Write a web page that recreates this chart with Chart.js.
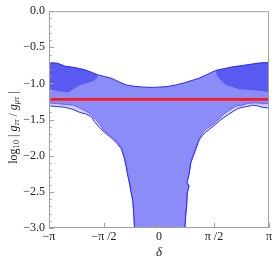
<!DOCTYPE html>
<html><head><meta charset="utf-8">
<script src="https://cdn.jsdelivr.net/npm/chart.js@4.4.1/dist/chart.umd.min.js"></script>
<style>html,body{margin:0;padding:0;background:#fff;}#wrap{width:274px;height:262px;}</style>
</head><body><div id="wrap"><canvas id="c" width="274" height="262"></canvas></div>
<script>
const PI = Math.PI;

// axis ticks
const xTickValues = [-PI, -PI / 2, 0, PI / 2, PI];
const xTickLabels = ['\u2212\u03c0', '\u2212\u03c0 /2', '0', '\u03c0 /2', '\u03c0'];
const yTickValues = [0, -0.5, -1, -1.5, -2, -2.5, -3];
const yTickLabels = ['0.0', '\u22120.5', '\u22121.0', '\u22121.5', '\u22122.0', '\u22122.5', '\u22123.0'];

// upper edge of the allowed region (delta, log10 ratio)
const upperDelta = [-PI, -2.9, -2.69, -2.4, -2.12, -1.9, -1.75, -1.55, -1.37, -1.15, -0.94, -0.7, -0.45, -0.18, 0, 0.2, 0.49, 0.8, 1.15, 1.4, 1.62, 1.91, 2.1, 2.4, 2.67, 2.9, PI];
const upperLog   = [-0.71, -0.72, -0.76, -0.78, -0.81, -0.85, -0.88, -0.905, -0.926, -0.975, -1.02, -1.04, -1.05, -1.055, -1.05, -1.045, -1.02, -0.98, -0.926, -0.87, -0.82, -0.79, -0.77, -0.75, -0.73, -0.715, -0.71];

// lower edge of the outer (lightest) region, right branch from delta=pi down to the bottom
const outerRightDelta = [PI, 2.95, 2.81, 2.67, 2.52, 2.38, 2.24, 2.14, 1.98, 1.86, 1.72, 1.58, 1.45, 1.34, 1.24, 1.15, 1.08, 1.01, 0.96, 0.91, 0.86, 0.80, 0.86, 0.81, 0.79, 0.76, 0.74];
const outerRightLog   = [-1.34, -1.33, -1.31, -1.30, -1.32, -1.33, -1.35, -1.38, -1.43, -1.47, -1.52, -1.58, -1.63, -1.67, -1.72, -1.78, -1.87, -1.97, -2.03, -2.10, -2.26, -2.37, -2.42, -2.51, -2.69, -2.85, -3.0];
// lower edge of the outer region, left branch from delta=-pi down to the bottom
const outerLeftDelta = [-PI, -2.9, -2.69, -2.45, -2.27, -2.1, -1.93, -1.84, -1.70, -1.55, -1.42, -1.32, -1.2, -1.08, -1.0, -0.94, -0.89, -0.84, -0.80, -0.75, -0.72, -0.70];
const outerLeftLog   = [-1.31, -1.32, -1.33, -1.36, -1.40, -1.42, -1.46, -1.53, -1.61, -1.68, -1.73, -1.77, -1.83, -1.90, -2.02, -2.15, -2.28, -2.39, -2.50, -2.62, -2.80, -3.0];

// lower edge of the middle region
const midRightDelta = [PI, 2.95, 2.81, 2.67, 2.52, 2.38, 2.24, 2.14, 1.98, 1.86, 1.72, 1.58, 1.45, 1.34, 1.24, 1.15, 1.08, 1.01, 0.96, 0.91, 0.86, 0.80, 0.86, 0.81, 0.79, 0.76, 0.74];
const midRightLog   = [-1.28, -1.28, -1.27, -1.27, -1.28, -1.30, -1.31, -1.33, -1.38, -1.42, -1.49, -1.55, -1.60, -1.63, -1.69, -1.76, -1.85, -1.94, -2.01, -2.08, -2.24, -2.37, -2.42, -2.51, -2.69, -2.85, -3.0];
const midLeftDelta = [-PI, -2.9, -2.69, -2.45, -2.27, -2.1, -1.93, -1.84, -1.70, -1.55, -1.42, -1.32, -1.2, -1.08, -1.0, -0.94, -0.89, -0.84, -0.80, -0.75, -0.72, -0.70];
const midLeftLog   = [-1.27, -1.28, -1.29, -1.30, -1.34, -1.38, -1.43, -1.48, -1.56, -1.66, -1.71, -1.75, -1.81, -1.88, -1.98, -2.10, -2.26, -2.37, -2.49, -2.61, -2.80, -3.0];

// darkest regions: they start on the upper edge, these are their lower edges
const darkLeftEnd = -1.75;
const darkLeftDelta = [-1.77, -1.82, -1.95, -2.1, -2.3, -2.45, -2.6, -2.85, -PI];
const darkLeftLog   = [-0.92, -0.95, -0.98, -1.0, -1.03, -1.08, -1.12, -1.11, -1.08];
const darkRightStart = 1.62;
const darkRightDelta = [PI, 2.9, 2.6, 2.29, 2.1, 1.91, 1.75, 1.65];
const darkRightLog   = [-1.12, -1.10, -1.09, -1.08, -1.05, -1.02, -0.95, -0.88];

// reference line
const refDelta = [-PI, PI];
const refLog = [-1.22, -1.22];

const pts = (d, v) => d.map((x, i) => ({x: x, y: v[i]}));
const upperPts = pts(upperDelta, upperLog);
const rev = a => a.slice().reverse();

const outerPoly = upperPts
  .concat(pts(outerRightDelta, outerRightLog))
  .concat(rev(pts(outerLeftDelta, outerLeftLog)));
const midPoly = upperPts
  .concat(pts(midRightDelta, midRightLog))
  .concat(rev(pts(midLeftDelta, midLeftLog)));
const darkLeftPoly = upperPts.filter(p => p.x <= darkLeftEnd).concat(pts(darkLeftDelta, darkLeftLog));
const darkRightPoly = upperPts.filter(p => p.x >= darkRightStart).concat(pts(darkRightDelta, darkRightLog));

const EDGE = '#2b2bff';
const serif = "'Times New Roman', 'Liberation Serif', Tinos, serif";

const datasets = [
  {data: pts(refDelta, refLog), showLine: true, borderColor: '#ff1a1a', borderWidth: 2.6, fill: false, order: 0},
  {data: upperPts, showLine: true, borderColor: EDGE, borderWidth: 1, fill: false, order: 1},
  {data: pts(outerRightDelta, outerRightLog), showLine: true, borderColor: EDGE, borderWidth: 1, fill: false, order: 1},
  {data: pts(outerLeftDelta, outerLeftLog), showLine: true, borderColor: EDGE, borderWidth: 1, fill: false, order: 1},
  {data: darkLeftPoly, showLine: true, borderWidth: 0, borderColor: 'rgba(0,0,0,0)', backgroundColor: '#5a5af2', fill: 'shape', order: 2},
  {data: darkRightPoly, showLine: true, borderWidth: 0, borderColor: 'rgba(0,0,0,0)', backgroundColor: '#5a5af2', fill: 'shape', order: 2},
  {data: pts(midRightDelta, midRightLog), showLine: true, borderColor: 'rgba(60,60,255,0.75)', borderWidth: 0.8, fill: false, order: 3},
  {data: pts(midLeftDelta, midLeftLog), showLine: true, borderColor: 'rgba(60,60,255,0.75)', borderWidth: 0.8, fill: false, order: 3},
  {data: midPoly, showLine: true, borderWidth: 0, borderColor: 'rgba(0,0,0,0)', backgroundColor: '#8c8cf8', fill: 'shape', order: 4},
  {data: outerPoly, showLine: true, borderWidth: 0, borderColor: 'rgba(0,0,0,0)', backgroundColor: '#d3d3fb', fill: 'shape', order: 5}
];

const framePlugin = {
  id: 'frame',
  afterDatasetsDraw(chart) {
    const {ctx, chartArea: a, scales: {x, y}} = chart;
    ctx.save();
    ctx.strokeStyle = '#a0a0a0';
    ctx.lineWidth = 1;
    ctx.strokeRect(a.left + 0.5, a.top + 0.5, a.right - a.left - 1, a.bottom - a.top - 1);
    ctx.beginPath();
    for (let k = 0; k <= 30; k++) {
      const py = Math.round(y.getPixelForValue(-k / 10)) + 0.5;
      const len = (k % 5 === 0) ? 5 : 2.5;
      ctx.moveTo(a.left, py); ctx.lineTo(a.left + len, py);
    }
    xTickValues.forEach(v => {
      const px = Math.round(x.getPixelForValue(v)) + 0.5;
      ctx.moveTo(px, a.bottom); ctx.lineTo(px, a.bottom - 5);
    });
    ctx.stroke();
    ctx.restore();
  },
  afterDraw(chart) {
    const {ctx, chartArea: a} = chart;
    const big = '12px ' + serif, bigI = 'italic 12px ' + serif;
    const sm = '8.5px ' + serif, smI = 'italic 8.5px ' + serif;
    const segs = [
      {t: 'log', f: big, dy: 0}, {t: '10', f: sm, dy: 3},
      {t: ' | ', f: big, dy: 0}, {t: 'g', f: bigI, dy: 0}, {t: '\u03c4\u03c4', f: smI, dy: 3},
      {t: ' / ', f: big, dy: 0}, {t: 'g', f: bigI, dy: 0}, {t: '\u03bc\u03c4', f: smI, dy: 3},
      {t: ' |', f: big, dy: 0}
    ];
    ctx.save();
    let total = 0;
    segs.forEach(s => { ctx.font = s.f; s.w = ctx.measureText(s.t).width; total += s.w; });
    ctx.translate(14, (a.top + a.bottom) / 2 + 8);
    ctx.rotate(-PI / 2);
    ctx.fillStyle = '#222';
    ctx.textBaseline = 'middle';
    let cx = -total / 2;
    segs.forEach(s => { ctx.font = s.f; ctx.fillText(s.t, cx, s.dy); cx += s.w; });
    ctx.restore();
  }
};

const tickFont = {family: serif, size: 12};
new Chart(document.getElementById('c'), {
  type: 'scatter',
  data: {datasets},
  options: {
    responsive: false, animation: false, devicePixelRatio: 1,
    layout: {padding: {top: 7, right: 4, left: 0, bottom: 0}},
    plugins: {legend: {display: false}, tooltip: {enabled: false}},
    elements: {point: {radius: 0, hoverRadius: 0}, line: {tension: 0}},
    scales: {
      x: {
        type: 'linear', min: -PI, max: PI,
        afterBuildTicks: s => { s.ticks = xTickValues.map(v => ({value: v})); },
        ticks: {
          callback: v => xTickLabels[xTickValues.findIndex(t => Math.abs(t - v) < 1e-6)],
          font: tickFont, color: '#222', padding: 2, maxRotation: 0, autoSkip: false
        },
        grid: {display: false, drawTicks: false}, border: {display: false},
        title: {display: true, text: '\u03b4', color: '#222', font: {family: serif, size: 13, style: 'italic'}, padding: {top: 2, bottom: 2}},
        afterFit: s => { s.height = 34; }
      },
      y: {
        type: 'linear', min: -3, max: 0,
        afterBuildTicks: s => { s.ticks = yTickValues.map(v => ({value: v})); },
        ticks: {
          callback: v => yTickLabels[yTickValues.findIndex(t => Math.abs(t - v) < 1e-6)],
          font: tickFont, color: '#222', padding: 4
        },
        grid: {display: false, drawTicks: false}, border: {display: false},
        afterFit: s => { s.width = 49; }
      }
    }
  },
  plugins: [framePlugin]
});
</script></body></html>
